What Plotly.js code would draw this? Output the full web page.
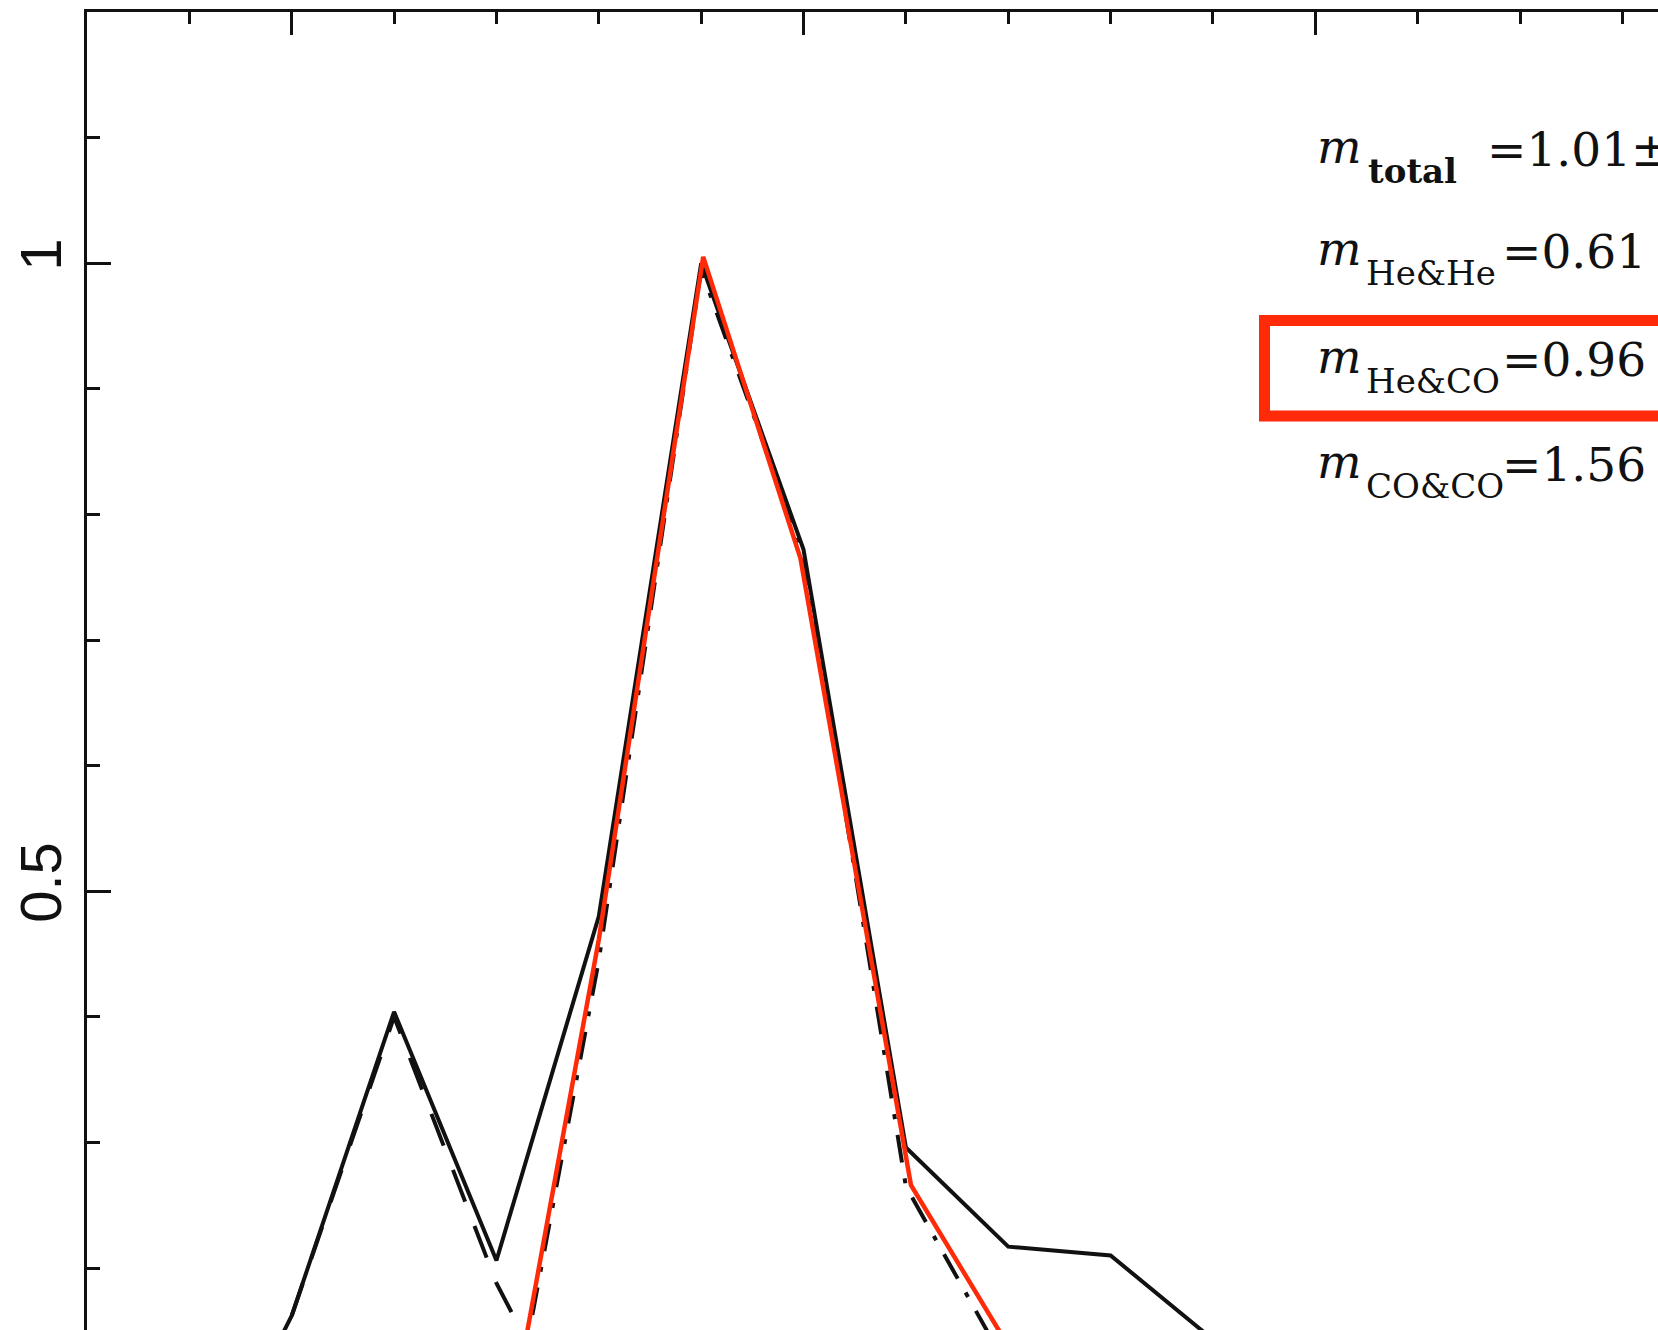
<!DOCTYPE html>
<html>
<head>
<meta charset="utf-8">
<script src="https://cdn.plot.ly/plotly-3.0.1.min.js"></script>
<style>
  html, body { margin: 0; padding: 0; background: #ffffff; overflow: hidden; }
  #chart { width: 1658px; height: 1330px; }
</style>
</head>
<body>
<div id="chart"></div>
<script>
// Normalised mass distributions of double white-dwarf systems, 0.1 Msun bins
const massBins  = [0.4, 0.5, 0.6, 0.7, 0.8, 0.9, 1.0, 1.1, 1.2, 1.3, 1.4];
const totalFrac = [0.0, 0.162, 0.404, 0.206, 0.48, 1.0, 0.772, 0.296, 0.217, 0.21, 0.143];

const heHeMass = [0.5, 0.6, 0.7, 0.8];
const heHeFrac = [0.162, 0.40, 0.188, 0.03];

const heCoMass = [0.7, 0.8, 0.9, 1.0, 1.1, 1.2];
const heCoFrac = [0.01, 0.445, 0.995, 0.768, 0.265, 0.12];

// hand-traced red overlay of the He&CO curve
const heCoMarkMass = [0.7, 0.8, 0.902, 0.997, 1.105, 1.2];
const heCoMarkFrac = [0.015, 0.4615, 1.005, 0.765, 0.266, 0.138];

// mean-mass labels
const popNames  = ['total', 'He&He', 'He&CO', 'CO&CO'];
const popMeans  = ['1.01\u00b1', '0.61', '0.96', '1.56'];

// ---- page geometry ----
const W = 1658, H = 1330;
const L = 87, T = 12;
const plotW = W - L, plotH = H - T;
const pxPerMass = 1023.6, pxPerFrac = 1256;
const xRange = [0.3, 0.3 + plotW / pxPerMass];
const yRange = [1.2 - plotH / pxPerFrac, 1.2];

const px2paperX = px => (px - L) / plotW;
const px2paperY = py => (H - py) / plotH;

const RED = '#ff2a08';
const INK = '#111111';

const traces = [
  {
    x: heCoMass, y: heCoFrac, mode: 'lines', name: 'He&CO',
    line: { color: INK, width: 4, dash: '28px,16px,5px,16px' }
  },
  {
    x: heHeMass, y: heHeFrac, mode: 'lines', name: 'He&He',
    line: { color: INK, width: 4, dash: '34px,26px' }
  },
  {
    x: massBins, y: totalFrac, mode: 'lines', name: 'total',
    line: { color: INK, width: 4 }
  },
  {
    x: heCoMarkMass, y: heCoMarkFrac, mode: 'lines', name: 'He&CO (marked)',
    line: { color: RED, width: 4.5 }
  }
];

// label rows: baseline of the italic m, left edges of each piece
const rowBase = [163, 265, 373, 478];
const mLeft = 1315;
const subLeft = [1366, 1364, 1364, 1364];
const valLeft = [1485, 1500, 1500, 1500];

const MFS = 47, SFS = 34, VFS = 47;
const serif = 'DejaVu Serif, Liberation Serif, serif';
const annotations = [];
popNames.forEach((name, i) => {
  const b = rowBase[i];
  annotations.push({
    xref: 'paper', yref: 'paper', showarrow: false,
    x: px2paperX(mLeft), y: px2paperY(b - 0.346 * MFS),
    xanchor: 'left', yanchor: 'middle',
    text: '<i>m</i>',
    font: { family: serif, size: MFS, color: INK }
  });
  const subTxt = name.replace(/&/g, '&amp;');
  annotations.push({
    xref: 'paper', yref: 'paper', showarrow: false,
    x: px2paperX(subLeft[i]), y: px2paperY(b + 20 - 0.346 * SFS),
    xanchor: 'left', yanchor: 'middle',
    text: i === 0 ? '<b>' + subTxt + '</b>' : subTxt,
    font: { family: serif, size: SFS, color: INK }
  });
  annotations.push({
    xref: 'paper', yref: 'paper', showarrow: false,
    x: px2paperX(valLeft[i]), y: px2paperY(b + 3 - 0.346 * VFS),
    xanchor: 'left', yanchor: 'middle',
    text: '=' + popMeans[i],
    font: { family: serif, size: VFS, color: INK }
  });
});

const layout = {
  width: W, height: H,
  margin: { l: L, r: 0, t: T, b: 0, pad: 0 },
  paper_bgcolor: '#ffffff', plot_bgcolor: '#ffffff',
  showlegend: false,
  xaxis: {
    range: xRange, side: 'top',
    showline: true, linecolor: INK, linewidth: 3,
    showgrid: false, zeroline: false,
    showticklabels: false,
    ticks: 'inside', tick0: 0, dtick: 0.5, ticklen: 23, tickwidth: 3, tickcolor: INK,
    minor: { ticks: 'inside', dtick: 0.1, ticklen: 12, tickwidth: 3, tickcolor: INK, showgrid: false }
  },
  yaxis: {
    range: yRange,
    showline: true, linecolor: INK, linewidth: 3,
    showgrid: false, zeroline: false,
    ticks: 'inside', tick0: 0, dtick: 0.5, ticklen: 24, tickwidth: 3, tickcolor: INK,
    tickangle: -90,
    tickfont: { family: 'Liberation Sans, Arial, sans-serif', size: 58, color: INK },
    minor: { ticks: 'inside', dtick: 0.1, ticklen: 13, tickwidth: 3, tickcolor: INK, showgrid: false }
  },
  annotations: annotations,
  shapes: [{
    type: 'rect', xref: 'paper', yref: 'paper', layer: 'above',
    x0: px2paperX(1264.5), x1: px2paperX(1720),
    y0: px2paperY(320.5), y1: px2paperY(416),
    line: { color: RED, width: 11 }, fillcolor: 'rgba(0,0,0,0)'
  }]
};

Plotly.newPlot('chart', traces, layout, { displayModeBar: false, staticPlot: true });
</script>
</body>
</html>
